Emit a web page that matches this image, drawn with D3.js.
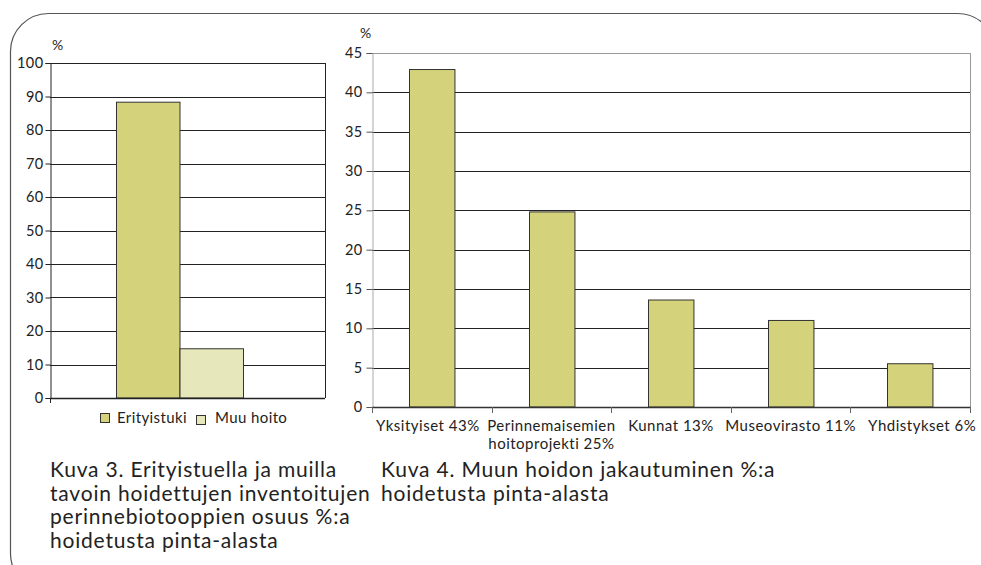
<!DOCTYPE html>
<html>
<head>
<meta charset="utf-8">
<style>
    body { margin: 0; background: white; }
    svg { font-family: Lato, "Open Sans", sans-serif; display: block; }
</style>
</head>
<body>
<svg width="981" height="565"></svg>
<script src="https://d3js.org/d3.v7.min.js"></script>
<script>
    // chart 3 (left)
    let series3 = ["Erityistuki", "Muu hoito"];
    let values3 = [88.3, 14.7];
    let colors3 = ["#d4d27a", "#e6e7ba"];
    let ticks3 = [0, 10, 20, 30, 40, 50, 60, 70, 80, 90, 100];

    // chart 4 (right)
    let categories4 = [["Yksityiset 43%"], ["Perinnemaisemien", "hoitoprojekti 25%"], ["Kunnat 13%"], ["Museovirasto 11%"], ["Yhdistykset 6%"]];
    let values4 = [42.9, 24.8, 13.6, 11.0, 5.5];
    let ticks4 = [0, 5, 10, 15, 20, 25, 30, 35, 40, 45];

    let caption3 = ["Kuva 3. Erityistuella ja muilla", "tavoin hoidettujen inventoitujen", "perinnebiotooppien osuus %:a", "hoidetusta pinta-alasta"];
    let caption4 = ["Kuva 4. Muun hoidon jakautuminen %:a", "hoidetusta pinta-alasta"];

    let svg = d3.select("svg");

    // rounded frame
    svg.append("rect")
        .attr("x", 10.5).attr("y", 13.5)
        .attr("width", 985).attr("height", 578)
        .attr("rx", 38).attr("ry", 38)
        .attr("fill", "none")
        .attr("stroke", "#555")
        .attr("stroke-width", 1.2);

    // ---------- left chart ----------
    let m3 = {left: 50, right: 325, top: 63, bottom: 398};
    let y3 = d3.scaleLinear().domain([0, 100]).range([m3.bottom, m3.top]);
    let x3 = d3.scaleBand().domain(series3).range([116, 243]);

    let g3 = svg.append("g");

    g3.append("g")
        .selectAll("line")
        .data(ticks3.filter(d => d > 0))
        .join("line")
        .attr("x1", m3.left).attr("x2", m3.right)
        .attr("y1", d => Math.round(y3(d)) + 0.5)
        .attr("y2", d => Math.round(y3(d)) + 0.5)
        .attr("stroke", "#222");

    g3.append("line")
        .attr("x1", m3.right + 0.5).attr("x2", m3.right + 0.5)
        .attr("y1", m3.top).attr("y2", m3.bottom)
        .attr("stroke", "#222");

    g3.append("g")
        .selectAll("rect")
        .data(series3)
        .join("rect")
        .attr("x", d => x3(d) + 0.5)
        .attr("y", (d, i) => y3(values3[i]))
        .attr("width", x3.bandwidth())
        .attr("height", (d, i) => y3(0) - y3(values3[i]))
        .attr("fill", (d, i) => colors3[i])
        .attr("stroke", "#333");

    g3.append("g")
        .attr("transform", `translate(${m3.left + 0.5},0)`)
        .call(d3.axisLeft(y3).tickValues(ticks3).tickSize(5).tickPadding(2))
        .call(g => g.selectAll("line, path").attr("stroke", "#222"))
        .call(g => g.selectAll("text").attr("font-size", 14.5).attr("letter-spacing", 0.4)
            .attr("fill", "#222").attr("font-family", "Lato"));

    g3.append("line")
        .attr("x1", m3.left).attr("x2", m3.right)
        .attr("y1", m3.bottom + 0.5).attr("y2", m3.bottom + 0.5)
        .attr("stroke", "#222").attr("stroke-width", 1.5);
    g3.append("line")
        .attr("x1", m3.left + 0.5).attr("x2", m3.left + 0.5)
        .attr("y1", m3.bottom).attr("y2", m3.bottom + 5)
        .attr("stroke", "#222");

    g3.append("text")
        .attr("x", 52).attr("y", 50)
        .attr("font-size", 14).attr("fill", "#222")
        .text("%");

    // legend
    let legend = g3.append("g")
        .selectAll("g")
        .data(series3)
        .join("g")
        .attr("transform", (d, i) => `translate(${i ? 196 : 100},${i ? 415 : 413})`);
    legend.append("rect")
        .attr("x", 0.5).attr("y", 0.5)
        .attr("width", 9).attr("height", 9)
        .attr("fill", (d, i) => colors3[i])
        .attr("stroke", "#333");
    legend.append("text")
        .attr("x", (d, i) => i ? 19 : 17)
        .attr("y", (d, i) => i ? 8 : 10)
        .attr("font-size", 15).attr("letter-spacing", 0.4).attr("fill", "#222")
        .text(d => d);

    // ---------- right chart ----------
    let m4 = {left: 372, right: 970, top: 53, bottom: 407};
    let y4 = d3.scaleLinear().domain([0, 45]).range([m4.bottom, m4.top]);
    let x4 = d3.scaleBand().domain(d3.range(categories4.length)).range([m4.left, m4.right]);
    let barW = x4.bandwidth() * 0.38;

    let g4 = svg.append("g");

    g4.append("g")
        .selectAll("line")
        .data(ticks4.filter(d => d > 0))
        .join("line")
        .attr("x1", m4.left).attr("x2", m4.right)
        .attr("y1", d => Math.round(y4(d)) + 0.5)
        .attr("y2", d => Math.round(y4(d)) + 0.5)
        .attr("stroke", d => d === 45 ? "#999" : "#222");

    g4.append("line")
        .attr("x1", m4.right + 0.5).attr("x2", m4.right + 0.5)
        .attr("y1", m4.top).attr("y2", m4.bottom)
        .attr("stroke", "#999");

    g4.append("g")
        .selectAll("rect")
        .data(values4)
        .join("rect")
        .attr("x", (d, i) => Math.round(x4(i) + (x4.bandwidth() - barW) / 2) + 0.5)
        .attr("y", d => y4(d))
        .attr("width", barW)
        .attr("height", d => y4(0) - y4(d))
        .attr("fill", colors3[0])
        .attr("stroke", "#333");

    g4.append("g")
        .attr("transform", `translate(${m4.left + 0.5},0)`)
        .call(d3.axisLeft(y4).tickValues(ticks4).tickSize(6).tickPadding(4))
        .call(g => g.selectAll("line").attr("stroke", "#555"))
        .call(g => g.select(".domain").attr("stroke", "#aaa"))
        .call(g => g.selectAll("text").attr("font-size", 14.5).attr("letter-spacing", 0.4)
            .attr("fill", "#222").attr("font-family", "Lato"));

    // bottom axis with ticks at category boundaries
    let gx4 = g4.append("g");
    gx4.append("line")
        .attr("x1", m4.left).attr("x2", m4.right + 1)
        .attr("y1", m4.bottom + 0.5).attr("y2", m4.bottom + 0.5)
        .attr("stroke", "#333").attr("stroke-width", 1.3);
    gx4.selectAll("line.tk")
        .data(d3.range(categories4.length + 1))
        .join("line")
        .attr("class", "tk")
        .attr("x1", i => Math.round(m4.left + i * x4.step()) + 0.5)
        .attr("x2", i => Math.round(m4.left + i * x4.step()) + 0.5)
        .attr("y1", m4.bottom).attr("y2", m4.bottom + 6)
        .attr("stroke", "#666");
    gx4.selectAll("text")
        .data(categories4)
        .join("text")
        .attr("text-anchor", "middle")
        .attr("font-size", 15).attr("letter-spacing", 0.5).attr("fill", "#222")
        .attr("transform", (d, i) => `translate(${x4(i) + x4.bandwidth() / 2 + (i === 4 ? 12 : i === 0 ? -4 : 0)},${m4.bottom + 24})`)
        .selectAll("tspan")
        .data(d => d)
        .join("tspan")
        .attr("x", 0)
        .attr("dy", (d, i) => i ? 18 : 0)
        .text(d => d);

    g4.append("text")
        .attr("x", 360).attr("y", 38)
        .attr("font-size", 14).attr("fill", "#222")
        .text("%");

    // captions
    function caption(lines, x) {
        svg.append("text")
            .attr("font-size", 21).attr("letter-spacing", 0.8).attr("fill", "#222")
            .selectAll("tspan")
            .data(lines)
            .join("tspan")
            .attr("x", x)
            .attr("y", (d, i) => 477 + i * 23.5)
            .text(d => d);
    }
    caption(caption3, 50);
    caption(caption4, 381);
</script>
</body>
</html>
